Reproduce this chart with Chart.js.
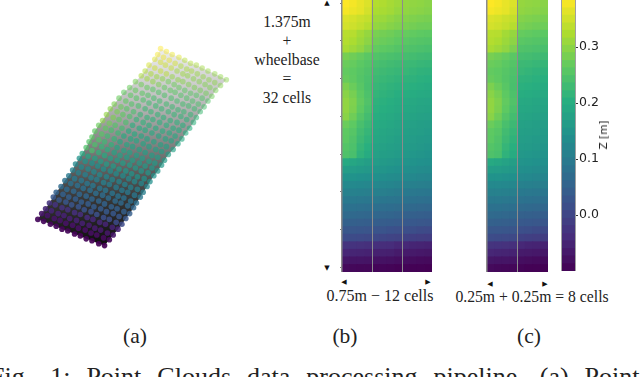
<!DOCTYPE html>
<html>
<head>
<meta charset="utf-8">
<script src="https://cdn.jsdelivr.net/npm/chart.js@4"></script>
<style>
html, body { margin: 0; padding: 0; background: #fff; }
#page { position: relative; width: 640px; height: 377px; overflow: hidden; font-family: "Liberation Serif", serif; color: #222; }
.box { position: absolute; }
.txt { position: absolute; white-space: nowrap; font-size: 15.7px; line-height: 18px; transform: translateX(-50%); text-align: center; }
.sub { font-size: 21.5px; line-height: 24px; }
.tri { position: absolute; font-family: "DejaVu Sans", sans-serif; font-size: 7px; line-height: 8px; color: #111; transform: translate(-50%, -50%); }
#caption { position: absolute; left: -10px; top: 362px; white-space: nowrap; font-size: 26px; line-height: 30px; word-spacing: 9.5px; }
#zLabel { position: absolute; left: 603px; top: 135px; white-space: nowrap; font-family: "DejaVu Sans", sans-serif; font-size: 10.5px; line-height: 12px; color: #222; transform: translate(-50%, -50%) rotate(-90deg); }
</style>
</head>
<body>
<div id="page">
  <div class="box" style="left:0;top:0;width:240px;height:270px"><canvas id="cloudChart"></canvas></div>
  <div class="box" style="left:340px;top:0;width:94px;height:274px"><canvas id="heatB"></canvas></div>
  <div class="box" style="left:485px;top:0;width:65px;height:274px"><canvas id="heatC"></canvas></div>
  <div class="box" style="left:559px;top:0;width:60px;height:274px"><canvas id="barChart"></canvas></div>

  <div class="txt" style="left:287px;top:13px">1.375m</div>
  <div class="txt" style="left:287px;top:32px">+</div>
  <div class="txt" style="left:287px;top:51px">wheelbase</div>
  <div class="txt" style="left:287px;top:70px">=</div>
  <div class="txt" style="left:287px;top:89px">32 cells</div>
  <div class="txt" style="left:380px;top:287px;font-size:16px">0.75m − 12 cells</div>
  <div class="txt" style="left:532px;top:288px">0.25m + 0.25m = 8 cells</div>
  <div class="txt sub" style="left:135px;top:324px">(a)</div>
  <div class="txt sub" style="left:345px;top:324px">(b)</div>
  <div class="txt sub" style="left:529px;top:324px">(c)</div>
  <div id="caption">Fig.<span style="margin-left:3px"> </span>1: Point Clouds data processing pipeline. (a) Point</div>
  <div id="zLabel">Z [m]</div>

  <span class="tri" style="left:327px;top:3px">▲</span>
  <span class="tri" style="left:327px;top:268px">▼</span>
  <span class="tri" style="left:344px;top:282px">◀</span>
  <span class="tri" style="left:428px;top:282px">▶</span>
  <span class="tri" style="left:490px;top:284px">◀</span>
  <span class="tri" style="left:545px;top:284px">▶</span>
</div>

<script>
// height grid, first row is the top one
const zGrid = [
    [.384,.378,.368,.358,.328,.325,.318,.312,.305,.302,.300,.296],
    [.378,.372,.366,.352,.322,.320,.315,.306,.302,.298,.296,.292],
    [.358,.354,.346,.340,.312,.310,.303,.296,.292,.288,.285,.283],
    [.352,.348,.340,.330,.304,.300,.294,.288,.284,.280,.276,.275],
    [.332,.330,.316,.305,.284,.280,.276,.270,.268,.265,.262,.260],
    [.328,.322,.310,.298,.276,.272,.268,.262,.258,.255,.252,.250],
    [.320,.312,.302,.285,.266,.262,.258,.252,.248,.246,.243,.240],
    [.282,.276,.268,.258,.250,.246,.242,.238,.236,.234,.230,.228],
    [.272,.268,.260,.252,.240,.236,.232,.228,.226,.224,.220,.218],
    [.266,.262,.254,.246,.232,.228,.224,.220,.220,.216,.212,.210],
    [.270,.264,.252,.242,.226,.222,.218,.214,.212,.210,.206,.204],
    [.286,.272,.256,.240,.220,.216,.212,.208,.206,.204,.200,.196],
    [.296,.282,.262,.244,.216,.212,.208,.202,.200,.198,.194,.192],
    [.302,.288,.266,.248,.210,.206,.202,.196,.192,.190,.186,.184],
    [.302,.286,.262,.242,.206,.202,.198,.192,.188,.186,.182,.180],
    [.296,.276,.252,.234,.200,.196,.192,.186,.182,.180,.176,.174],
    [.272,.262,.240,.226,.196,.192,.188,.182,.176,.174,.170,.168],
    [.262,.254,.232,.218,.190,.186,.182,.178,.172,.170,.166,.162],
    [.260,.248,.226,.212,.186,.182,.178,.172,.168,.164,.160,.158],
    [.252,.244,.218,.204,.180,.176,.172,.168,.162,.160,.156,.152],
    [.246,.240,.212,.196,.174,.170,.166,.162,.156,.154,.150,.146],
    [.192,.186,.178,.170,.164,.160,.156,.152,.148,.146,.142,.140],
    [.166,.164,.160,.156,.152,.150,.146,.142,.138,.136,.132,.130],
    [.146,.146,.142,.140,.140,.136,.132,.130,.126,.124,.120,.118],
    [.126,.126,.124,.122,.124,.120,.118,.114,.110,.108,.106,.104],
    [.110,.110,.108,.106,.108,.106,.102,.100,.096,.094,.092,.090],
    [.096,.096,.094,.092,.094,.090,.088,.086,.082,.080,.078,.076],
    [.080,.080,.078,.076,.076,.074,.072,.070,.066,.064,.062,.060],
    [.066,.064,.062,.060,.060,.058,.056,.054,.050,.048,.046,.044],
    [.050,.048,.046,.044,.044,.042,.040,.038,.034,.032,.030,.028],
    [.030,.030,.028,.026,.024,.024,.020,.018,.016,.014,.010,.008],
    [.012,.010,.008,.006,.004,.002,-.002,-.004,-.006,-.010,-.012,-.014],
    [-.028,-.030,-.032,-.034,-.036,-.038,-.040,-.046,-.046,-.050,-.052,-.054],
    [-.048,-.050,-.052,-.054,-.056,-.056,-.058,-.064,-.064,-.066,-.068,-.070],
    [-.070,-.072,-.072,-.074,-.076,-.076,-.078,-.082,-.082,-.084,-.086,-.088],
    [-.088,-.090,-.092,-.092,-.094,-.094,-.096,-.098,-.096,-.098,-.099,-.100]
];
const columnsB = [0, 1, 2, 3, 4, 5, 6, 7, 8, 9, 10, 11];
const columnsC = [0, 1, 2, 3, 8, 9, 10, 11];
const rowTicks = [0.6, 5.6, 10.6, 15.6, 20.6, 25.6, 30.6, 35.6];

// projected point cloud of panel (a), first row is the near edge
const cloudX = [
    [35,41,48,54,60,66,73,79,85,91,98,104],
    [39,45,52,58,64,71,77,84,90,96,103,109],
    [43,49,56,62,68,75,81,88,94,100,107,113],
    [47,53,60,66,73,79,86,92,99,105,112,118],
    [51,57,64,70,77,83,90,96,103,109,116,122],
    [54,61,67,74,80,87,93,100,106,113,119,126],
    [59,65,72,78,85,91,98,104,111,117,124,130],
    [63,69,76,82,89,95,102,108,115,121,128,134],
    [67,73,80,86,92,99,105,112,118,124,131,137],
    [71,77,84,90,96,103,109,116,122,128,135,141],
    [74,80,87,93,99,106,112,119,125,131,138,144],
    [78,84,91,97,103,110,116,123,129,135,142,148],
    [81,87,94,100,106,113,119,126,132,138,145,151],
    [85,91,98,104,110,117,123,130,136,142,149,155],
    [88,94,101,107,114,120,127,133,140,146,153,159],
    [91,98,104,111,117,124,130,137,143,150,156,163],
    [94,101,107,114,120,127,133,140,146,153,159,166],
    [98,105,111,118,124,131,137,144,150,157,163,170],
    [102,109,115,122,129,135,142,148,155,162,168,175],
    [106,113,119,126,133,140,146,153,160,167,173,180],
    [110,117,123,130,137,144,150,157,164,171,177,184],
    [114,121,127,134,141,148,154,161,168,175,181,188],
    [119,126,132,139,146,152,159,165,172,179,185,192],
    [124,131,137,144,150,157,163,170,176,183,189,196],
    [130,136,143,149,155,161,168,174,180,186,193,199],
    [136,142,148,154,160,166,173,179,185,191,197,203],
    [142,148,154,160,166,172,177,183,189,195,201,207],
    [146,152,158,164,170,176,181,187,193,199,205,211],
    [150,156,162,168,174,180,185,191,197,203,209,215],
    [156,162,167,173,179,185,190,196,202,208,213,219],
    [159,165,171,177,183,189,194,200,206,212,218,224],
    [162,168,174,181,187,193,199,205,211,218,224,230]
];
const cloudY = [
    [48,46,43,41,38,36,33,31,28,26,23,21],
    [54,52,49,47,44,42,39,37,34,32,29,27],
    [59,57,54,52,49,47,44,42,39,37,34,32],
    [65,63,60,58,55,53,50,48,45,43,40,38],
    [71,68,66,63,61,58,56,53,50,48,45,43],
    [76,74,71,69,66,64,61,59,56,54,51,49],
    [82,79,77,74,72,69,67,64,61,59,56,54],
    [88,85,83,80,78,75,73,70,67,65,62,60],
    [93,90,88,85,83,80,78,75,72,70,67,65],
    [99,96,94,91,89,86,84,81,78,76,73,71],
    [105,102,100,97,94,92,89,87,84,81,79,76],
    [111,108,106,103,100,98,95,93,90,87,85,82],
    [116,113,111,108,105,103,100,98,95,92,90,87],
    [122,119,117,114,111,109,106,104,101,98,96,93],
    [128,125,123,120,117,114,112,109,106,103,101,98],
    [133,130,128,125,122,119,117,114,111,108,106,104],
    [139,136,134,131,128,125,123,120,117,114,112,109],
    [145,142,140,137,134,131,129,126,123,120,118,115],
    [150,147,145,142,139,136,134,131,128,125,123,120],
    [156,153,151,148,145,142,140,137,134,131,129,126],
    [162,159,156,154,151,148,145,142,139,137,134,131],
    [167,164,162,159,156,153,151,148,145,142,140,137],
    [173,170,167,165,162,159,156,153,150,148,145,142],
    [179,176,173,171,168,165,162,159,156,154,151,148],
    [184,181,178,176,173,170,167,164,161,159,156,153],
    [190,187,184,182,179,176,173,170,167,165,162,159],
    [196,193,190,187,184,181,179,176,173,170,167,164],
    [201,198,195,193,190,187,184,181,178,176,173,170],
    [207,204,201,198,195,192,190,187,184,181,178,175],
    [213,210,207,204,201,198,196,193,190,187,184,181],
    [218,215,212,209,206,203,201,198,195,192,189,186],
    [224,221,218,215,212,209,207,204,201,198,195,192]
];

// colour bar
const barEdges = [-.100,-.087,-.073,-.060,-.046,-.033,-.019,-.006,.008,.021,.034,.048,.061,.075,.088,.102,.115,.128,.142,.155,.169,.182,.196,.209,.222,.236,.249,.263,.276,.290,.303,.316,.330,.343,.357,.370,.384];
const barTicks = [0, 0.1, 0.2, 0.3];

const viridis = [[68,1,84],[71,45,123],[59,82,139],[44,114,142],[33,145,140],[40,174,128],[94,201,98],[173,220,48],[253,231,37]];
const zMin = -0.1, zMax = 0.384;

function zColor(z, alpha) {
    const t = Math.min(1, Math.max(0, (z - zMin) / (zMax - zMin))) * (viridis.length - 1);
    const i = Math.min(viridis.length - 2, Math.floor(t));
    const f = t - i;
    const c = viridis[i].map((v, k) => Math.round(v + (viridis[i + 1][k] - v) * f));
    return `rgba(${c[0]},${c[1]},${c[2]},${alpha === undefined ? 1 : alpha})`;
}

function fixedOptions() {
    return { responsive: true, maintainAspectRatio: false, animation: false, plugins: { legend: { display: false }, tooltip: { enabled: false } } };
}

/* panel (a) */
const nRows = cloudX.length;
const points = [];
const pointColors = [];
cloudX.forEach((row, r) => {
    // cloud rows run bottom to top, grid rows top to bottom
    const gridRow = zGrid.length - 1 - Math.round(r * (zGrid.length - 1) / (nRows - 1));
    // near points look solid, far ones fade out
    const alpha = 0.92 - 0.47 * r / (nRows - 1);
    row.forEach((x, k) => {
        points.push({ x: x, y: cloudY[r][k] });
        pointColors.push(zColor(zGrid[gridRow][k], alpha));
    });
});
const outline = [];
cloudX.forEach((row, r) => outline.push({ x: row[0], y: cloudY[r][0] }));
cloudX[nRows - 1].forEach((x, k) => outline.push({ x: x, y: cloudY[nRows - 1][k] }));
for (let r = nRows - 1; r >= 0; r--) outline.push({ x: cloudX[r][11], y: cloudY[r][11] });
for (let k = 11; k >= 0; k--) outline.push({ x: cloudX[0][k], y: cloudY[0][k] });

new Chart(document.getElementById('cloudChart'), {
    type: 'scatter',
    data: {
        datasets: [
            { data: points, pointRadius: 2.8, pointBorderWidth: 0, pointBackgroundColor: pointColors, order: 1 },
            {
                data: outline, showLine: true, fill: 'shape', pointRadius: 0, borderWidth: 0, order: 2,
                backgroundColor: (ctx) => {
                    const area = ctx.chart.chartArea;
                    if (!area) return '#888';
                    const yScale = ctx.chart.scales.y;
                    const g = ctx.chart.ctx.createLinearGradient(0, yScale.getPixelForValue(21), 0, yScale.getPixelForValue(224));
                    g.addColorStop(0, '#0c0c0c');
                    g.addColorStop(0.25, '#3a3a3a');
                    g.addColorStop(0.5, '#7e7e7e');
                    g.addColorStop(0.75, '#c0c0c0');
                    g.addColorStop(1, '#eeeeee');
                    return g;
                }
            }
        ]
    },
    options: {
        ...fixedOptions(),
        layout: { padding: 0 },
        scales: {
            x: { type: 'linear', min: 0, max: 240, display: false },
            y: { type: 'linear', min: 0, max: 270, display: false }
        }
    }
});

/* panels (b) and (c): stacked one-cell bars, a grey line every 4 columns */
function heatmap(id, columns, showRowTicks) {
    const rows = zGrid.slice().reverse();
    new Chart(document.getElementById(id), {
        type: 'bar',
        data: {
            labels: columns.map(String),
            datasets: rows.map((row) => ({
                data: columns.map(() => 1),
                backgroundColor: columns.map((c) => zColor(row[c])),
                borderWidth: 0,
                inflateAmount: 0.4,
                barPercentage: 1,
                categoryPercentage: 1
            }))
        },
        options: {
            ...fixedOptions(),
            layout: { padding: { left: 0, right: 2, top: 0, bottom: 2 } },
            scales: {
                x: {
                    stacked: true,
                    border: { display: false },
                    ticks: { display: false },
                    grid: {
                        offset: true, drawTicks: false, z: 1,
                        color: (ctx) => (ctx.index % 4 === 0 ? '#8c8c8c' : 'rgba(0,0,0,0)'),
                        lineWidth: (ctx) => (ctx.index % 4 === 0 && ctx.index > 0 && ctx.index < columns.length ? 1 : 1.5)
                    }
                },
                y: {
                    stacked: true, min: 0, max: rows.length,
                    afterBuildTicks: (scale) => { scale.ticks = showRowTicks ? rowTicks.map((v) => ({ value: v })) : []; },
                    border: { display: false },
                    ticks: { display: false },
                    grid: { drawOnChartArea: false, tickLength: 2, color: showRowTicks ? '#777' : 'rgba(0,0,0,0)' }
                }
            }
        }
    });
}
heatmap('heatB', columnsB, true);
heatmap('heatC', columnsC, false);

/* colour bar */
new Chart(document.getElementById('barChart'), {
    type: 'bar',
    data: {
        labels: ['z'],
        datasets: barEdges.slice(1).map((hi, i) => ({
            data: [[barEdges[i], hi]],
            backgroundColor: zColor((barEdges[i] + hi) / 2),
            borderWidth: 0,
            inflateAmount: 0.4,
            barPercentage: 1,
            categoryPercentage: 1,
            grouped: false
        }))
    },
    options: {
        ...fixedOptions(),
        layout: { padding: { left: 2, right: 0, top: 0, bottom: 3 } },
        scales: {
            x: {
                border: { display: false },
                ticks: { display: false },
                grid: { offset: true, drawTicks: false, z: 1, color: '#a0a0a0', lineWidth: 1 },
                afterFit: (scale) => { scale.height = 0; }
            },
            y: {
                position: 'right',
                min: zMin, max: zMax,
                afterBuildTicks: (scale) => { scale.ticks = barTicks.map((v) => ({ value: v })); },
                border: { display: false },
                grid: { drawOnChartArea: false, tickLength: 3, color: '#333' },
                ticks: { padding: 1, color: '#222', font: { family: 'DejaVu Sans', size: 12.5 }, callback: (v) => v.toFixed(1) },
                afterFit: (scale) => { scale.width = 44; scale.paddingTop = 0; scale.paddingBottom = 0; }
            }
        }
    }
});
</script>
</body>
</html>
